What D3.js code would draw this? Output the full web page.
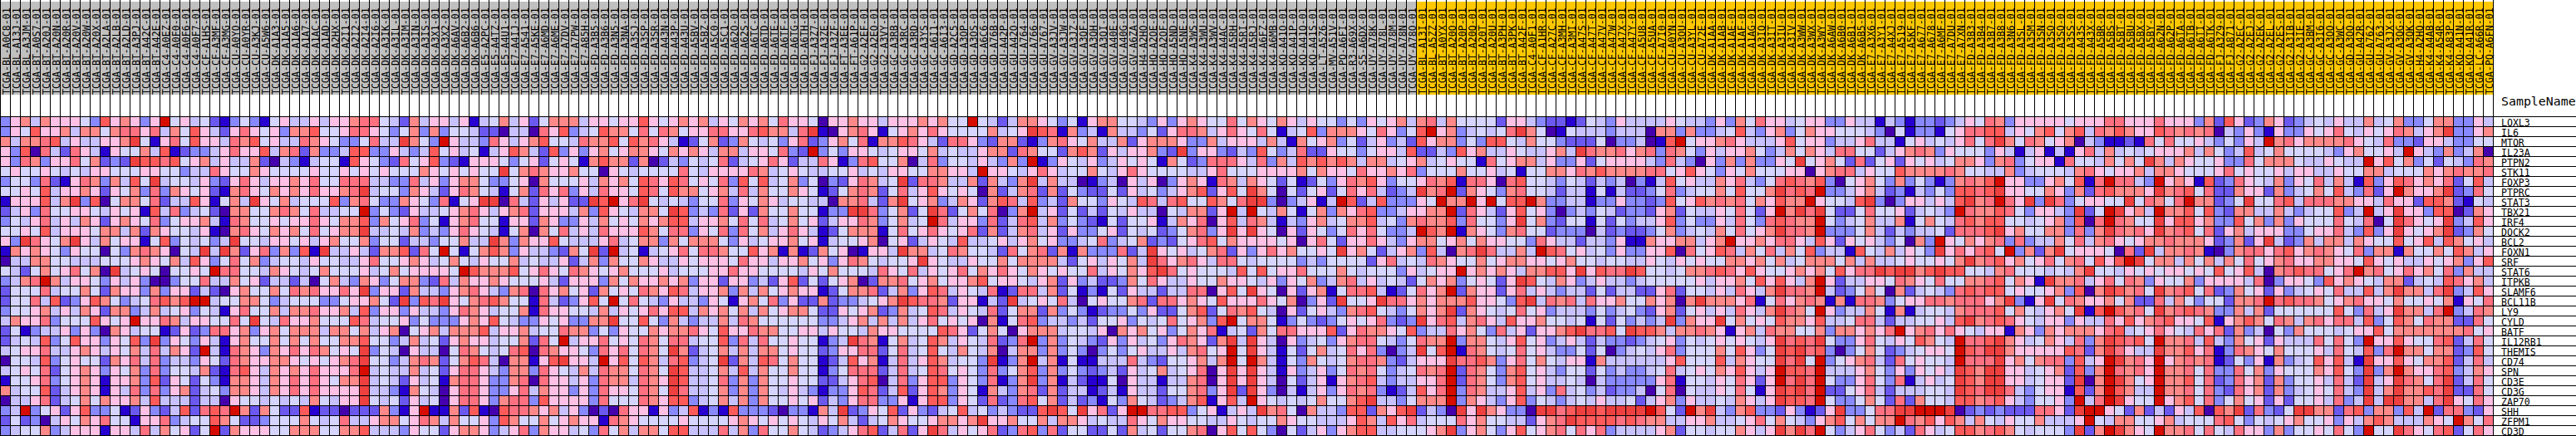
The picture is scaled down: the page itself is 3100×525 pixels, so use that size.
<!DOCTYPE html>
<html>
<head>
<meta charset="utf-8">
<script src="https://cdn.jsdelivr.net/npm/d3@7"></script>
<style>html,body{margin:0;padding:0;background:#fff}svg{display:block}</style>
</head>
<body>
<div id="chart"></div>
<script>
const genes = ["LOXL3","IL6","MTOR","IL23A","PTPN2","STK11","FOXP3","PTPRC","STAT3","TBX21","IRF4","DOCK2","BCL2","FOXN1","SRF","STAT6","ITPKB","SLAMF6","BCL11B","LY9","CYLD","BATF","IL12RB1","THEMIS","CD74","SPN","CD3E","CD3G","ZAP70","SHH","ZFPM1","CD3D"];

const sampleIds = ("BL-A0C8 BL-A13J BL-A3JM BT-A0S7 BT-A20J BT-A20N BT-A20R BT-A20V BT-A20W BT-A20X BT-A2LA BT-A2LB BT-A2LD BT-A3PJ BT-A42C BT-A42E C4-A0EZ C4-A0F0 C4-A0F6 C4-A0F7 CF-A1HS CF-A3MF CF-A3MG CU-A0YO CU-A0YR CU-A3KJ CU-A5W6 DK-A1A3 DK-A1A5 DK-A1A6 DK-A1A7 "
 + "DK-A1AC DK-A1AD DK-A2HX DK-A2I1 DK-A2I2 DK-A2I4 DK-A2I6 DK-A3IK DK-A3IL DK-A3IM DK-A3IN DK-A3IS DK-A3X1 DK-A3X2 DK-A6AV DK-A6B2 DK-A6B6 E5-A2PC E5-A4TZ E5-A4U1 E7-A4IJ E7-A541 E7-A5KE E7-A6MD E7-A6ME E7-A7DV E7-A7PW E7-A85H FD-A3B5 FD-A3B6 FD-A3N5 FD-A3NA "
 + "FD-A3SJ FD-A3SP FD-A3SR FD-A43N FD-A43P FD-A43U FD-A5BV FD-A5BZ FD-A5C0 FD-A5C1 FD-A62O FD-A62S FD-A6TC FD-A6TD FD-A6TE FD-A6TF FD-A6TG FD-A6TH FJ-A3Z7 FJ-A3ZE FJ-A3ZF FT-A3EE FT-A61P G2-A2EF G2-A2EO G2-A3VY GC-A3RB GC-A3RC GC-A3RD GC-A3YS GC-A6I1 GC-A6I3 "
 + "GD-A2C5 GD-A3OP GD-A3OS GD-A6C6 GD-A76B GU-A42P GU-A42O GU-A764 GU-A766 GU-A767 GV-A3JV GV-A3JW GV-A3JZ GV-A3QF GV-A3QH GV-A3QI GV-A40E GV-A40G GV-A6ZA H4-A2HO HQ-A2OE HQ-A2OF HQ-A5ND HQ-A5NE K4-A3WS K4-A3WU K4-A3WV K4-A4AC K4-A5RH K4-A5RI K4-A5RJ K4-A6FZ "
 + "K4-A6MB KQ-A41O KQ-A41P KQ-A41Q KQ-A41S LT-A5Z6 MV-A51V PQ-A6FI R3-A69X S5-A6DX UY-A78K UY-A78L UY-A78M UY-A78N UY-A78O BL-A13I BL-A5ZZ BT-A0YX BT-A20O BT-A20P BT-A20Q BT-A20T BT-A20U BT-A3PH BT-A3PK BT-A42F C4-A0F1 CF-A1HR CF-A27C CF-A3MH CF-A3MI CF-A47S "
 + "CF-A47T CF-A47V CF-A47W CF-A47X CF-A47Y CF-A5U8 CF-A5UA CF-A7I0 CU-A0YN CU-A3OU CU-A3YL CU-A72E DK-A1AA DK-A1AB DK-A1AE DK-A1AF DK-A1AG DK-A3IQ DK-A3IT DK-A3IU DK-A3IV DK-A3WW DK-A3WX DK-A3WY DK-A6AW DK-A6B0 DK-A6B1 DK-A6B5 E7-A3X6 E7-A3Y1 E7-A4XJ E7-A519 "
 + "E7-A5KF E7-A677 E7-A678 E7-A6MF E7-A7DU E7-A7XN FD-A3B3 FD-A3B4 FD-A3B7 FD-A3B8 FD-A3N6 FD-A3SL FD-A3SM FD-A3SN FD-A3SO FD-A3SQ FD-A3SS FD-A43S FD-A43X FD-A5BR FD-A5BS FD-A5BT FD-A5BU FD-A5BX FD-A5BY FD-A62N FD-A62P FD-A6TA FD-A6TB FD-A6TI FD-A6TK FJ-A3Z9 "
 + "FJ-A871 G2-A2EC G2-A2EJ G2-A2EK G2-A2EL G2-A2ES G2-A3IB G2-A3IE GC-A3BM GC-A3I6 GC-A3OO GC-A3WC GD-A3OO GU-A42R GU-A762 GU-A763 GV-A3JX GV-A3QG GV-A3QK H4-A2HQ K4-A4AB K4-A54R K4-A83P KQ-A41N KQ-A41R LC-A66R PQ-A6FN").split(" ");

const groupColors = ["#C0C0C0", "#FFC800"];
const groupSizes = [142, 108];

// colour level of each cell: a (lowest) .. l (highest); one string per gene
const levels = "abcdefghijkl".split("");
const palette = ["#4500AD","#2700D1","#6B58EF","#8888FF","#C7C1FF","#D5D5FF","#FFC0E5","#FF8989","#FF7080","#FF5A5A","#EF4040","#D60C00"];

const cellLevels = [
"dghehgggfd jghgdglfge fcbdfdbfge e gegghiifec heggegbefh egcfhhhegg fg gjgfghgheg fhghfiggfa gghggegggh gh fflfecehhg fdfbghhffe dgdghgffif hg fhgegffdfd gfghehiehf fffcggedcc bc fedgeeeegf eedgdhfigg efggddgeeb ed bddcdegfih dgggggfggg iigggigggd hc jgcdhgcdef egeehefhdd fhhddge",
"dgfjgghehh fhiigiehfj gecgigfgdh h jffgiigfdf hdhdffecca eeaigjdefj hh fifihfggii ggijhheikb aghigbfghg ig ffffhefgkj ibhdebheed fcgiihegig fi fbefjdhhhg figdfjlghd efefikhfab fe eedeeeahhd hddefjedgh dfhggfffed af bddbfgiijj egfhjfhjei hjhggjihih ia edgdbgddgf gifegfgihe ghkddgh",
"hehhijegee gghkfbgifj ggeihjfgee i hgfddfieek hfdlgeedig eghjffeihh jf jhigebcfhc dhfefdgicd ghfibhhjig ec iigdchhcbd higfheehcg hhhgddhegg ge hebhfghdfc egdecjghhd fdjjfehffd cc cfaddeabjl fgghigeeeg jfggdeegie eb fgefegifik hfihfghaed bbcbififfg ed fdgelhighh hhigfeiddc ggeddff",
"gdjaiecige bgffhejbcd degiggjehi c hddejjddge dejfgefbeg jhecjdgdgh fg hhgfhghgeh heggfidcld fdggfefggf he feeghhcihf fchjhcgegg hdckdggdce dj fdeiccgffd fggejccedj gheegfeegh ek ihhighidih fdgegghfde hfhgeiiffc eg hihdgfffdg ebegbebgie hefefggghe hf dejefhffff edghffgelg edhdeha",
"gdihdggifh cdckjjijfg hegeehcaed b effbjgfdci fgjdcbgggf dfgcfgfbhj hh chacedfefi cefgigceei gbdijffhae id ffegedhdlb dgfegdegfg fbhfcdiiig ei dhejhjhjhe hhefghefgf fbifghhegd dg cfggggedie dagdhdhddg fkfghfcicf gc gfgefhhgdh idfggbiffe hfhfkhehgf fg ddifhhhfee gfeelgjfhd fcfedih",
"fgffgfefeg gfffggffde eigffhgfff f gffgfgfgff fhgfgfgffk fhihgghffa gf effffifegg ggihefgfee ffgefeggff hh ggelggfegi geffhfegig ffffeegiff fg ggghfhggfi gghgidfffh ffgefbffhh gi hjhhhhiifg jgfdgfhfff ggaghiiegf fj hhhhihffee hdefffehig fgghehhgff fg ifgffgegge egffhhefff hghihhi",
"dffdicbgih dhejfkeffe gdcgigeggh g iffiiieedd iegdghhfdd fgahfffgeh gh fjigjifgfi djfjefhdfa dcgihefkci ih eehchedhke heeabdeage gadghgbihe hg fcfbcfdgih jgdffgihjb iigaijffed fe cedeadbejf geehgiedfi jihjdafghf dh dfdbdhihjl ggddghfjbi liiedlghgb jc digfehdgfi ehebjdgjig hgicfje",
"ffgfjegghg cgfhdidhgf gcbhigfhgh g igghikeffd hgecgihfeb fhcigidgei gg fjifjhhfgh eiehffhgfb cfhihcfieg jg fgfahcehic hcfdccfcge fdeghjcgjf kh fafcfgcfig iecdekhilc hgfdhiffec ee bfbeccdfid effhfjffhk ijilddeghe cd bedfdjjijk ggffhgdhci jhhhgkhijf ic chggchdefh fjedicglhg ghkcdif",
"bgggjehkdj afhhficeej gbfhekgfhe f ffjdhifddh gfdibfgkka iecgegcckj lg ikfefedffi dgfhgeffee ahhiechkfg hd ehgchjiejd echffdgfej ieijffjhfi kk dadegbeljc ejdddgflhh lglfjjlhdd ee bddgddcdjf gjhihifhgj hhlgffejkd ad ggegejkhil igkdkidfgg ffkfihfilh hc dfkffijeii ihhggeiggc jjhcbfe",
"cegdiffggf egfgbjeide fcahhffhih f ieeffldfdc geefghigeg hicgggehdj gf ehhfkjdedi cgchffhffb ddkkidfhcf ki cfhfiadhle gcfcecfege eafehhcgle lf ehfbfhdhgi jddegghhlc igecgjfgda de dfecddcghc feegfifcgl hkikfccfif fg cefedlihhj ifdggedkcf lkghelhhjf jd chheehedef fjdelegkgg djjachg",
"dfegiegehg cghgfidfgg hebihffgfg g igfhhjdhfg idfbghiffb ggchgddgeh fg fhghjjeggh fifiefhfgc eggihdfhef li eggdiceije hdfdcbfcff gbehgiagje ih ebedghefhh jefdhihhjd iffdgkfhdc ff bfcfdeegjd fddgeifdij ihhlfdefhe eh bfhfeijhjj ffefghdjai lihffkgjjg hd djfhdhdgff fifeiafkig fgkdejg",
"ffgfjegggf hhehchgffe gbahigfhgh f ifghhkeefe hdedgigfeb fhahfiegei gg gjhfiidgfi difhegigeb cfhhhbfifg ig fgichcehie gcgddfgcfe fcdfhidgkg kg fagcgfdfig ifddeljhlb hgfdhiffcd dd aecdccdfhd efehfifghk iihldddfhe ce deefciiijk ghffhhdidh kihigkhijf ic ghegggddfg giedjdgkgf ghkcdhf",
"gdkigfhkge hfggbfjdfe fdekffeggf g eghffhdffc eedffheekh dhggjfeeeg ie fhhdhfhhhf dgefgghfgb effghafgce gf ejeefgeghf gddefidefh cdcfgijfhg gg gfgagifcgg igedghhfgh fhggffdige ec eedgbbhggh heghlgghgi igejgcgfge df ahdlgfhghi dideehfieh igfghhihhh gc dhcgkecdhe hhehgffjfg jejhfge",
"bhghgfdgff afdhihgafe kekhcgidhd j bkeegechhj ciflfbfhjh dgeedchfkc le fbefgifiih ffjghbhbch fgabggekhh ef ihffecifhi chbhdddice kgfgefhicg dg ighffgfkgh fceghdjeah ikieehelji fg efdgddggja ifgjiehfie hfjdeebjfe he gfdkgigijf ldhchkfggg faickehhih ba dhiigijghi hgfidhhbhf fhfjheg",
"aeehhffeee fffghgfhej gdfifhdeff e gffeegiffg hgefhfegff hefeegcehd hf fhgeegfggg figgegghfg dgihfeffgk gf eegffhfhhh hecfgegfhe kighigeiif ef fffdedffff cgiefeihgf fhfghhggfg hf feffeegfeg fgffhhghfh efhhhfhehe ef gffgfhkhij ghfgifhifj gjlkfhhehf he hfifghiggh hggfjgfgee gfghdgj",
"fecfhfgifh akefgfaffg fliiffehgf e fhfffgefhf ggggfljhhh jfgigfihgf gh fffgefffgg iggffffegf hfffeigfie gf gifhgigfhg fgffiegfhg jkifgfffej fj fggifffhfe fffdgefggl ghghgehhjj gk gjiikjffef hhijigjgff ghghfjgiik jk khjkjjffeh ifffefehkf fegfgfggfg fj fgjeahijii fgilhifgig hfidhee",
"dehilheggf dgegdaadff ieehfgceec e afhedhgdfh hdciehgghg fffgecgggd hf hgghghdggc ggdecgjcfc fghachhifg hf gghjfggfeg hcgdeccdhf igeegffhgg fe gdgfhdehie gefecfhghd fgfcgkjfeh gd egeedeffff fgegghfjgj gehlgceegg fi hgfiffhhij fhgbkhhieg ifihdgffhd gg ggeiadggfd jghgfehhce fejighe",
"cfffieffhf chggdhdggc ecaghffhfi h iggigkdggc heedghiged hiaighfgch fg fihgjieggh dhehfghggb cfhhicehdg ji egfeibciie hcfbdbfcge eceeiiagjf kg fagcghbfii jebcfighlc hggcgieged ee cfceeccgic ffegeigehk iihlecdfhf ah cefedijijj fgffghdjah kjhifkhijf ic dhfgcgdefg fieejehkhh eikdejg",
"cffiejcdgj hfdefijhjl leffhhfdef f fddfgghfck djikgfhijh ffbiecdgjf lf ifedgeedgf bghfidgcch cddefghkji ih cggbeckefg fieafgffhi ciighgfjgg gi gfhadgckff gkiighghhh jggfdjkeih ie igghffhgha hkhhhgibfi ghihbhbiih df ggiihiiigh kdbgkfihgg hfhcciehfd ff chhilijiih fghiggfhff gfhbgfi",
"dffghegehg chhdehefgd febgiffheh h igghejdggd geedgihgef fhbiggffeh eg fgigjjehgh fhehfghhfc cgfghcdhef ji egfeicfhhc hdfdbcddfd gccfhjcfih jf eagcfgedhi jfedfhghkc hgfefifgde ee dfdefdcghc fgegeigehk ihflgdeehf bh beffehiiij fhfeghfkbj ljhifkhiji hd dhehcfffff fjfdiegkhh eildeih",
"ehggidfffj gfglggiheg gffifkfeig g hfffjieffg dfdddghgjf eddgfgddhh kf fjfdhedeeh eihffffffd deghehehe g if gfgahbfijd eedecffgdf efifghdjlf hh fbdfdcdfgf gidcdkgije higejgghff ef bfcfdedekd hggkfhfgfj hhgjeefiie ce effgejkhij igfeggdgee igjghijggf jb ghjhfihehi giiejdfjhf ihhccif",
"cfbdeegdgd ahgeffbcgc diighdghfh h hehhfhegha fghehhhjeg gheffihhdf dg ffhghhigfj ggihhffgge gffehggfff fj igcfhfaghh heffegahgh fgdfhgibef ch fiigggjcgi hhgfjdeeig hfdiegcggh jk iijfkjjheh hihgbgheih hffhdhhghg il ghigigfegg bhgdhghhhg ijefgigfei gi chdeafdhff fefggjfhhh hhhhifg",
"cefejdfjgg dgfjdkdgfd gebghffhfh f hffhhjffde hefcghggef fhcifleggi fg fihfiieffj dieiffgffb dekihbfhef jh egfeicdild hdfedcgdge fdgihgchke kg eagdefdghi ifedfihhld hhfegjfgde ge ceddcdefgd fefgfgfegk ijikfddgif eg fjhfeliijk hgefhgeidh kjijflhhie je dhfgcgeeei fifdlggjgf fijceif",
"efggieeghg egfheiehgc lebihgdhgi g ihfgfkdfea geeafihfef ijaihggfdi gi fihfkhcefh ehehhfgffc dggiicfief jf ehfehaehhd hdfdadfdfg eegehifglf kg ebfcfhefig idadekfjlb ihfefifged df cfadefegid fffhfjgdfk jkijdadfhf cd efggfljikk hgggggjich kigeekhhjg ib dihgfhfffg eifejdilhh fhhcdjf",
"affejdfgff chgieideed gfcihgghhg f gfghikffde hihcfhjiea hhbgjkggel gj fjheijdefk chejifhffb cejghbeieg jh effdkbdhle hbfbbeeeie dcffghehlf lh ebfdhfefhi ihdcegggki ijhdgifhfe gg bheeeeeegj fffjehgffk ikfldfghie ci fgffeliiik ghfhiidjeg lkhiglghih ib cfdgbhdefj gjebkggjgf hhjceie",
"efgficfghg dgfhdidffe hcbijgehgh g igggilefee hefcgiiged hhdigfehei hh fihfkjeefh ejehffhffb dfiiiceief ji fgfdidfhjd hdfdcdecge fhefgiagkg kg ebgdegdfih ifdefihilc ihfdhjfged ff cfdeddefie fgfhgjgegl jjileeeghf dg dgfgekjhkk ggefghcjdh lihiglhhif id difhdgfffh gjfdkdhlhg gijdehg",
"bffgidfghg bgghdjcgfc fdbhhgehgi g igfhhkefec gefbhiigdd hiaiggegdi hh eihgkjeefi dhdhffgffc cegijaeidg jj dgfdibdhkd hbecbbfage ebeehiagkg kg eafcegbghi jedeeggilc ihfdhjfgee fe aedddddgib ffegfigcgl ikilfddgif di begefkjhkk ggefggckah lkhfglhhjf ic dighchdffg eieckegkih fikceif",
"heffjceghg bgeididghc efdhhgehgi g iggggkeedb hfeagiigdd giehggdgdi gg fihfkieefh dhdhfegedb ddgjicejcg jh dgfbhedhic hceebcebge ecffhidgkc kg daebegdgih idbcejgild iheegjegdi ef decddeafia feegfifbgk jkilccfgie ce eeffekjikk iedfggbjch ljheelhhif id cighchdefg fiedkehkhh jikccif",
"aeegicefhf hgghejeeec eeagffefef e hfeggkfefc gefagiigdh iidjggggdi ff fihgjjdefh ehdhffgfgc edgiiddgbg jj dgfcicdijf hcecdbfdhf ecdehjbgje lg fefefhffhj keedfhhhld hgedgjdfed ef egeefceghd geefehgegk jjilfddfhf ci chffejjhij gedffgdlei lkgfflghjf id fhfgcgcffg eidekekkhh eikgfig",
"deldfgcgjd dfbcgdcejc ijilhchfcc j bccaccchdb glbbhcjbaj iihghegdac ai ggbgdejbdb jdddcaddbh ekcdgfjcgd ce fjefdedccj kjfkgicgll iijjdfgbeg ek hifaheedjj chgjkcedak gkhgddakki jk kjkkkkljfc lhkedhjddc gdbcgkddfi ik klllkacdcd ccciigckll gfchcecgej aj hkcidcfkkh hcijdhhdje lciidcg",
"cfcdaegfhg iffbggidef fjhfccdfff h fefieeghhf gihehffgdj hffhfghggb ih gffffgffff ghgfgfgfeg fhecefhgff gh hghkgghffh ehhgefeeig fhggffeegf ef fhgffeeegj hejgiefffi ghffeecghi kj jjjijihhee ggheefgifh fedghjfhfh hl ihjgjhehfe gffheeeglf ehhffgheff fi jfdfefghff gdgehjheee hgflhfi",
"deffhdeggg bggeiehfgc flchgggffh h hffhhjeeed gffcghhgde gidhggefdi fh ehhfjjeeei ehdiffhfec degijceicg ki egfgicdijd icffccfche fcffhiagjf jf dafcegdghj jeefffghkd ghfdgjfghi fi gideeeeghc ffeffhgegk hkilfdegif de cigefjjhij hfefffdkch lkhgflhhif if eiggdhdffg fifdlffkig fijcfig"
].map(s => s.replace(/\s+/g, ""));

const W = 3100, H = 525, gridRight = 3000, cellSize = 12;
const headerTop = 2, headerBottom = 114, gridTop = 140;

const mono = "'DejaVu Sans Mono', monospace";
const x = d3.scaleBand().domain(d3.range(sampleIds.length)).range([0, gridRight]);
const y = d3.scaleBand().domain(genes).range([gridTop, gridTop + genes.length * cellSize]);
const color = d3.scaleOrdinal().domain(levels).range(palette);

const svg = d3.select("#chart").append("svg").attr("width", W).attr("height", H);
svg.append("rect").attr("width", W).attr("height", H).attr("fill", "#fff");

// header boxes
svg.append("g").selectAll("rect").data(d3.range(sampleIds.length)).join("rect")
  .attr("x", i => x(i)).attr("y", headerTop)
  .attr("width", x.bandwidth()).attr("height", headerBottom - headerTop)
  .attr("fill", i => i < groupSizes[0] ? groupColors[0] : groupColors[1]);

// heat cells
const cells = cellLevels.flatMap((row, r) => row.split("").map((lv, c) => ({ gene: genes[r], col: c, lv })));
svg.append("g").attr("shape-rendering", "crispEdges").selectAll("rect").data(cells).join("rect")
  .attr("x", d => x(d.col)).attr("y", d => y(d.gene))
  .attr("width", x.bandwidth()).attr("height", y.bandwidth())
  .attr("fill", d => color(d.lv));

// grid
const grid = svg.append("g").attr("stroke", "#000").attr("stroke-width", 1).attr("shape-rendering", "crispEdges");
grid.selectAll("line.v").data(d3.range(sampleIds.length + 1)).join("line").attr("class", "v")
  .attr("x1", i => i * x.step() + 0.5).attr("x2", i => i * x.step() + 0.5)
  .attr("y1", 0).attr("y2", gridTop + genes.length * cellSize + 1);
grid.selectAll("line.h").data(d3.range(genes.length + 1)).join("line").attr("class", "h")
  .attr("x1", 0).attr("x2", W)
  .attr("y1", i => gridTop + i * y.step() + 0.5).attr("y2", i => gridTop + i * y.step() + 0.5);

// sample labels
svg.append("g").attr("font-family", mono).attr("font-size", 11.6).attr("fill", "#000")
  .selectAll("text").data(sampleIds).join("text")
  .attr("transform", (d, i) => `translate(${x(i) + 11.6},${headerBottom}) rotate(-90)`)
  .text(d => `TCGA-${d}-01`);

// gene labels
svg.append("g").attr("font-family", mono).attr("font-size", 12.4).attr("fill", "#000")
  .selectAll("text").data(genes).join("text")
  .attr("x", 3010).attr("y", d => y(d) + y.bandwidth())
  .attr("textLength", d => d.length * 6.95).attr("lengthAdjust", "spacingAndGlyphs")
  .text(d => d);

svg.append("text").attr("x", 3010).attr("y", 127)
  .attr("font-family", mono).attr("font-size", 14.9).attr("fill", "#000").text("SampleName");
</script>
</body>
</html>
